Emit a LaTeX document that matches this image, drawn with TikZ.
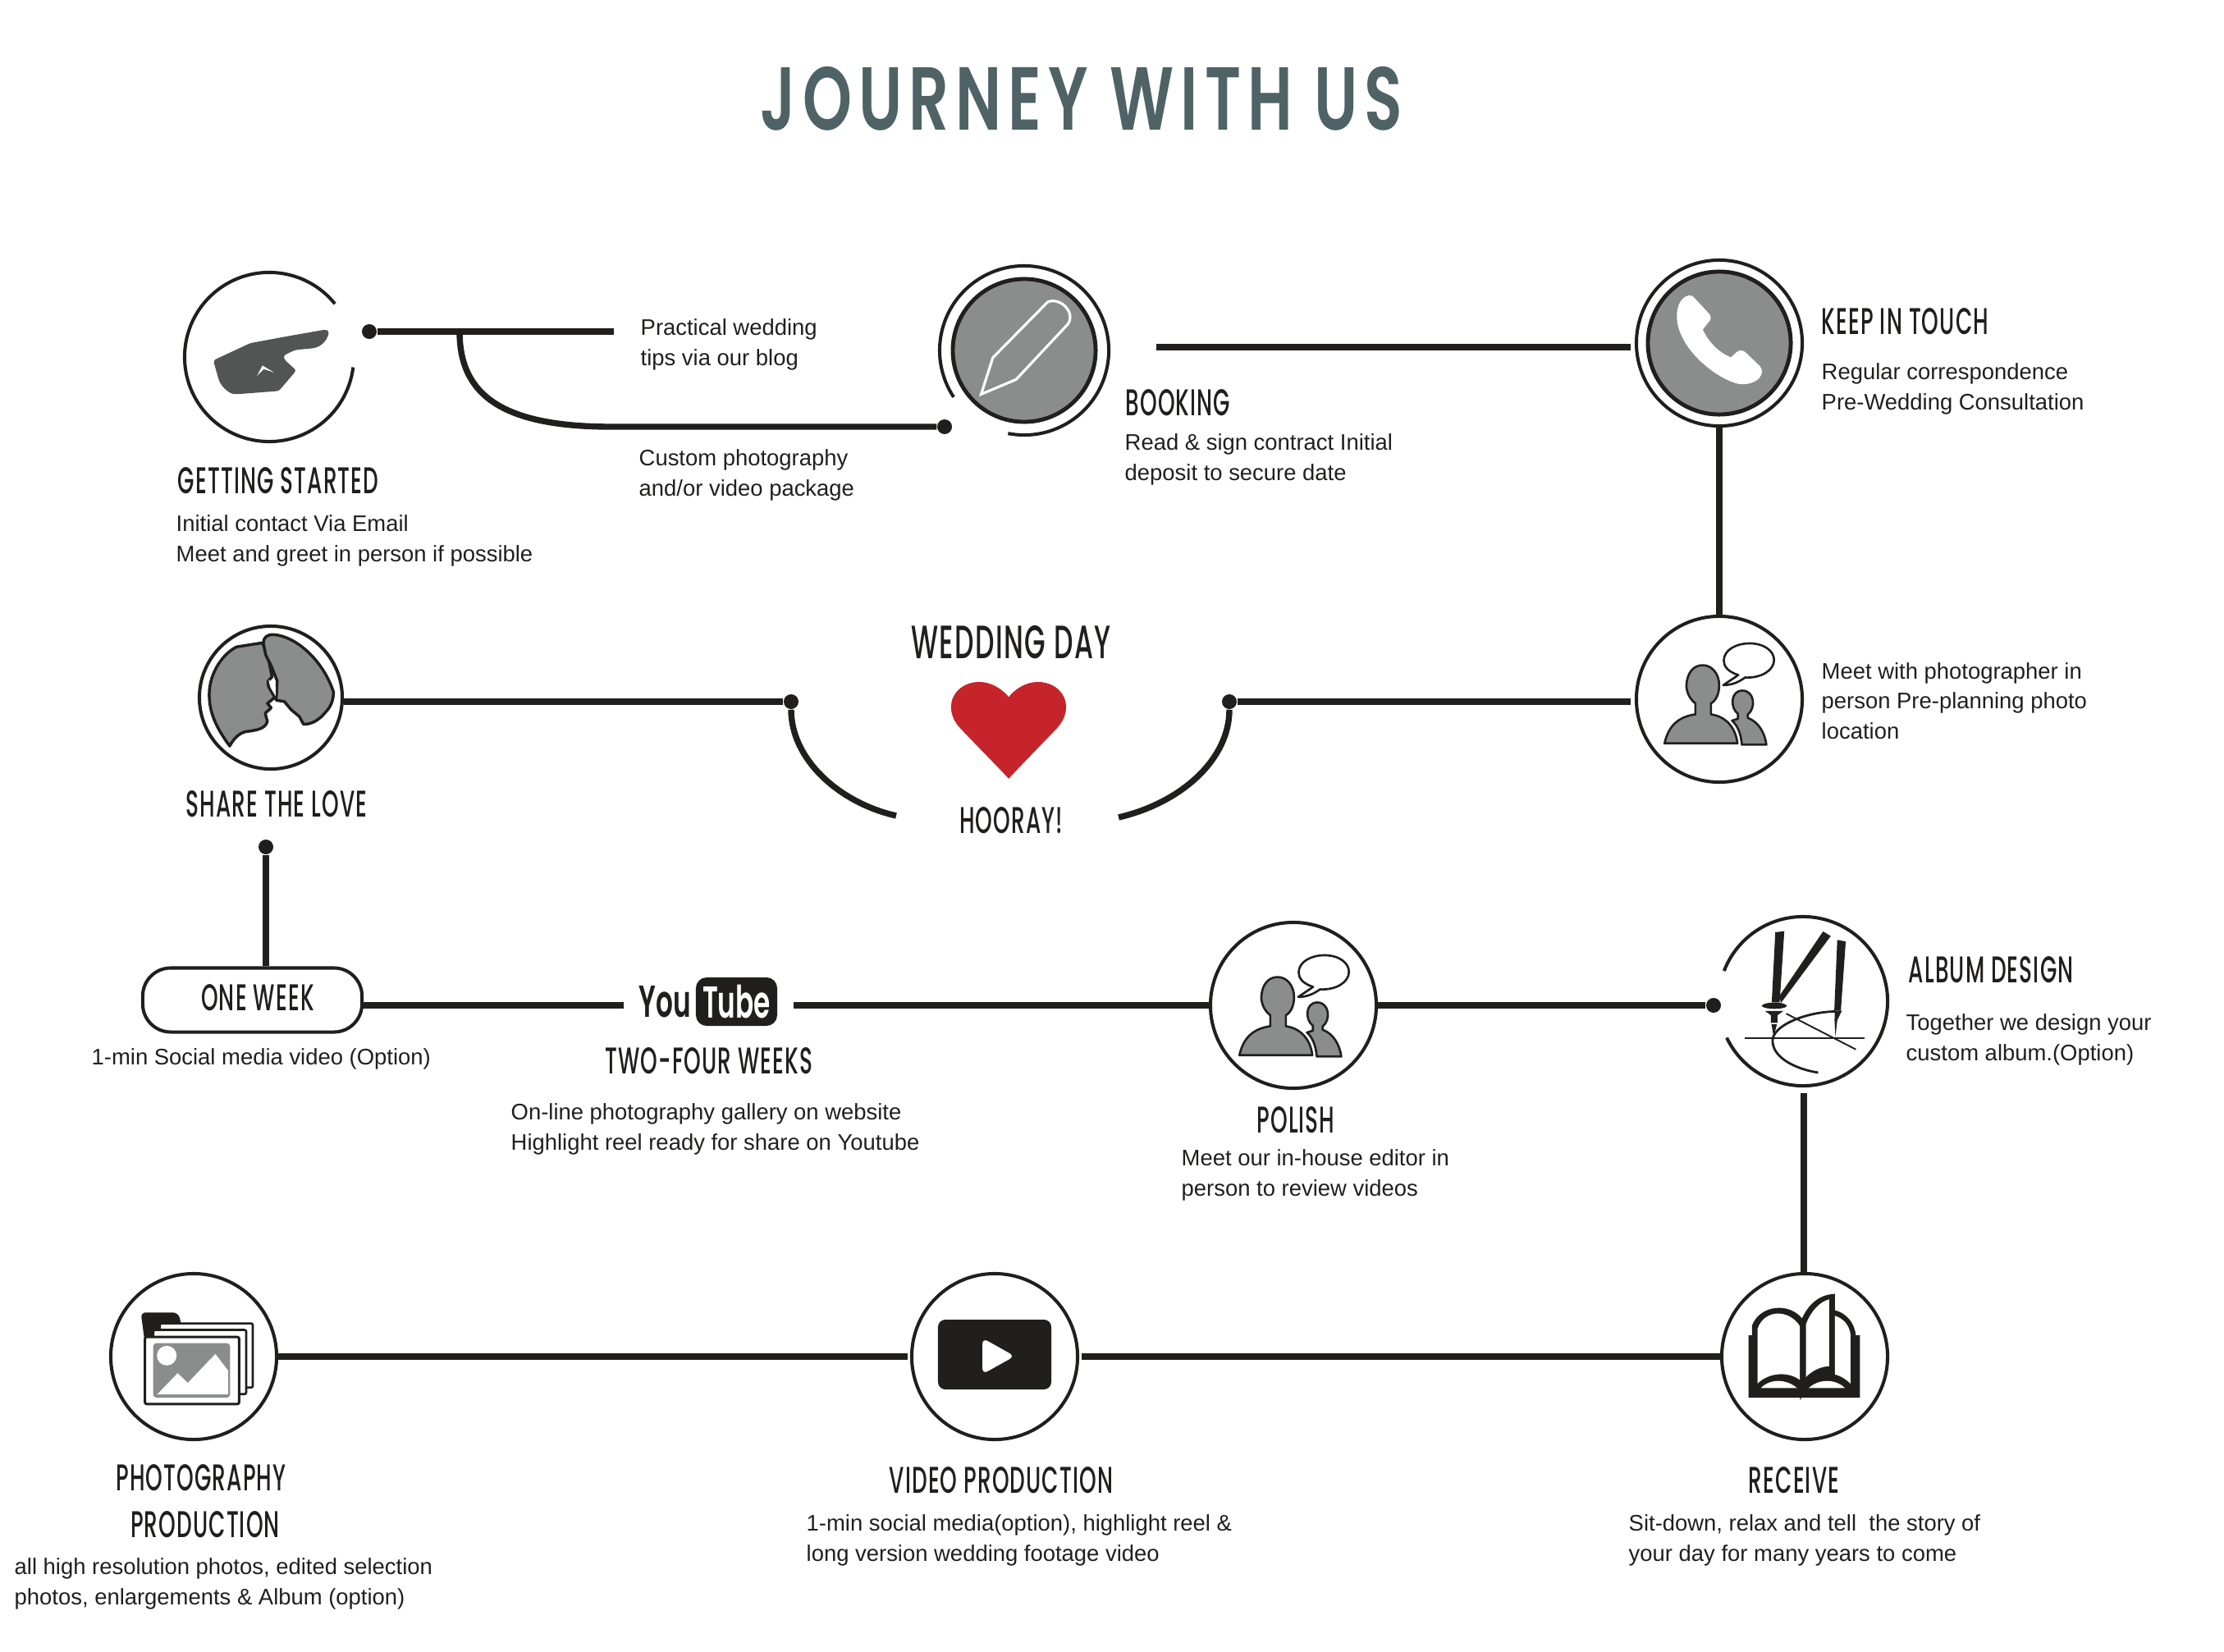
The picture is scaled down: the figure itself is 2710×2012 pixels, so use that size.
\documentclass[tikz,border=0pt]{standalone}
\usepackage{fontspec}
\setmainfont{Liberation Sans}
\newfontfamily\headfont[FakeStretch=0.58,LetterSpace=2.5]{Poppins Medium}
\newfontfamily\logofont[FakeStretch=0.6]{Poppins SemiBold}
\newfontfamily\titlefont[FakeStretch=0.70,LetterSpace=7.5]{Poppins SemiBold}
\definecolor{inkcolor}{RGB}{32,31,30}
\definecolor{iconcolor}{RGB}{139,141,140}
\definecolor{handcolor}{RGB}{83,85,84}
\definecolor{titlecolor}{RGB}{79,98,102}
\definecolor{heartcolor}{RGB}{196,36,42}
\tikzset{
  line/.style={inkcolor, line width=2.1pt},
  ring/.style={inkcolor, line width=1.15pt},
  iconring/.style={circle, draw=inkcolor, line width=1.15pt, fill=white, minimum size=2.02cm, inner sep=0pt},
  greydisc/.style={circle, draw=inkcolor, line width=1.4pt, fill=iconcolor, minimum size=1.74cm, inner sep=0pt},
  dotnode/.style={circle, fill=inkcolor, minimum size=0.18cm, inner sep=0pt},
  head/.style={text=inkcolor, font=\headfont\fontsize{12.9}{16}\selectfont, inner sep=0pt},
  body/.style={text=inkcolor, anchor=west, align=left, yshift=-0.03cm, font=\fontsize{7.8}{10.35}\selectfont, inner sep=0pt},
  zoomed/.style={x=0.003333cm, y=-0.003333cm},
  greyfill/.style={fill=iconcolor, draw=inkcolor, line width=0.75pt, line join=round}
}
% two figures with a speech bubble
\newcommand{\peopleicon}{
  \draw[greyfill] (145,498) .. controls (160,430) and (200,400) .. (258,392) -- (258,352)
    .. controls (230,330) and (225,300) .. (225,285) .. controls (228,240) and (250,212) .. (285,212)
    .. controls (320,212) and (345,245) .. (345,285) .. controls (345,315) and (335,340) .. (315,352)
    -- (315,392) .. controls (370,400) and (405,440) .. (412,498) -- cycle;
  \draw[greyfill] (428,503) .. controls (425,460) and (410,430) .. (392,415) -- (414,408) -- (414,390)
    .. controls (385,370) and (385,305) .. (430,305) .. controls (475,305) and (480,370) .. (450,392)
    -- (450,405) .. controls (490,420) and (512,460) .. (518,503) -- cycle;
  \draw[fill=white, draw=inkcolor, line width=0.75pt, line join=round] (360,285) -- (415,248)
    .. controls (375,235) and (362,215) .. (362,195) .. controls (362,155) and (410,132) .. (455,132)
    .. controls (510,132) and (546,160) .. (546,193) .. controls (546,230) and (500,260) .. (440,257)
    .. controls (415,275) and (390,285) .. (360,285) -- cycle;
}
\begin{document}
\begin{tikzpicture}[x=0.01cm, y=-0.01cm]
\useasboundingbox (0,0) rectangle (2710,2012);

% title
\node[text=titlecolor, font=\titlefont\fontsize{31}{36}\selectfont, inner sep=0pt] (title) at (1318,120) {JOURNEY WITH US};

% getting started
\coordinate (getting) at (328,435);
\draw[ring] ([shift={(39:1.03cm)}]getting) arc[start angle=39, end angle=353, radius=1.03cm];
\begin{scope}[shift={(200,300)}, zoomed]
\fill[handcolor, rounded corners=0.85pt] (180,418) -- (315,355) -- (450,330) -- (592,305) -- (604,312) .. controls (595,350) and (570,372) .. (530,375) -- (480,380) -- (437,400) -- (440,415) -- (484,455) -- (420,530) -- (265,542) .. controls (240,540) and (215,520) .. (200,490) -- cycle;
\fill[white] (340,475) -- (360,437) -- (402,462) -- (365,450) -- cycle;
\end{scope}
\node[dotnode] (gettingdot) at (450,404) {};
\coordinate (blogend) at (748,404);
\coordinate (branch) at (560,404);
\node[dotnode] (bookingdot) at (1151,520) {};
\draw[line] (gettingdot) -- (blogend);
\draw[line] (branch) .. controls (560,480) and (610,520) .. (745,520) -- (bookingdot);
\node[head, anchor=west] (gettinghead) at (216,586) {GETTING STARTED};
\node[body] (gettingtext) at (214,656) {Initial contact Via Email\\Meet and greet in person if possible};
\node[body] (blogtext) at (780,417) {Practical wedding\\tips via our blog};
\node[body] (customtext) at (778,576) {Custom photography\\and/or video package};

% booking
\coordinate (booking) at (1248,427);
\draw[ring] ([shift={(-101:1.03cm)}]booking) arc[start angle=-101, end angle=213.5, radius=1.03cm];
\node[greydisc] (bookingicon) at (booking) {};
\begin{scope}[shift={(1100,300)}, zoomed]
\draw[white, line width=0.9pt, line join=miter] (287,542) -- (330,408) -- (530,205) .. controls (550,192) and (600,205) .. (612,250) .. controls (614,265) and (612,275) .. (605,285) -- (415,488) -- cycle;
\end{scope}
\coordinate (bookingout) at (1409,423);
\node[head, anchor=west] (bookinghead) at (1371,491) {BOOKING};
\node[body] (bookingtext) at (1370,557) {Read \& sign contract Initial\\deposit to secure date};

% keep in touch
\node[iconring] (phone) at (2095,418) {};
\node[greydisc] (phoneicon) at (phone) {};
\begin{scope}[shift={(1980,305)}, zoomed]
\fill[white] (190,240) .. controls (190,205) and (205,170) .. (235,165) .. controls (245,163) and (250,170) .. (255,175)
  -- (308,232) .. controls (318,245) and (315,255) .. (305,265) -- (285,290) .. controls (305,335) and (345,375) .. (388,392)
  -- (410,372) .. controls (420,365) and (430,365) .. (440,372) -- (495,425) .. controls (505,440) and (505,450) .. (490,470)
  .. controls (470,488) and (440,492) .. (420,490) .. controls (340,475) and (190,360) .. (190,240) -- cycle;
\end{scope}
\draw[line, shorten >=0.05cm] (bookingout) -- (bookingout -| phone.west);
\node[head, anchor=west] (phonehead) at (2219,392) {KEEP IN TOUCH};
\node[body] (phonetext) at (2219,471) {Regular correspondence\\Pre-Wedding Consultation};

% meet with photographer
\node[iconring] (meet) at (2095,852) {};
\draw[line] (phone) -- (meet);
\begin{scope}[shift={(1980,740)}, zoomed]
\peopleicon
\end{scope}
\node[body] (meettext) at (2219,851) {Meet with photographer in\\person Pre-planning photo\\location};

% wedding day
\node[head, font=\headfont\fontsize{16.2}{18}\selectfont] (weddinghead) at (1232,783) {WEDDING DAY};
\node[head] (hooray) at (1232,1000) {HOORAY!};
\begin{scope}[shift={(1100,800)}, zoomed]
\fill[heartcolor] (388,447) .. controls (320,375) and (260,315) .. (210,262) .. controls (190,240) and (177,215) .. (177,185)
  .. controls (177,130) and (225,93) .. (280,93) .. controls (325,93) and (365,120) .. (388,148)
  .. controls (410,120) and (450,93) .. (495,93) .. controls (550,93) and (598,130) .. (598,185)
  .. controls (598,215) and (585,240) .. (565,262) .. controls (515,315) and (455,375) .. (388,447) -- cycle;
\end{scope}
\node[dotnode] (rightdot) at (1498,855) {};
\node[dotnode] (leftdot) at (964,855) {};
\coordinate (rightend) at (1363,996);
\coordinate (leftend) at (1092,994);
\draw[line, shorten >=0.05cm] (rightdot) -- (rightdot -| meet.west);
\draw[line] (rightdot) .. controls (1498,925) and (1440,978) .. (rightend);
\draw[line] (leftdot) .. controls (964,925) and (1022,978) .. (leftend);

% share the love
\node[iconring, minimum size=1.74cm] (share) at (330,850) {};
\draw[line] (leftdot) -- (leftdot -| share.east);
\begin{scope}[shift={(220,740)}, zoomed]
\draw[greyfill, line width=1pt] (180,508) .. controls (130,440) and (105,385) .. (105,320) .. controls (105,240) and (155,170) .. (205,145)
  -- (300,130) -- (320,180) -- (335,255) -- (320,270) -- (322,290) -- (345,330) -- (318,352) -- (332,368) -- (310,388) -- (318,418) .. controls (310,445) and (280,450) .. (240,455) .. controls (215,460) and (195,480) .. (180,508) -- cycle;
\draw[greyfill, line width=1pt] (303,130) .. controls (305,110) and (315,100) .. (340,100) .. controls (420,105) and (520,190) .. (560,310) .. controls (560,340) and (550,365) .. (530,385)
  .. controls (510,410) and (480,430) .. (450,428) -- (435,400) -- (405,375) -- (380,345) -- (350,340) -- (354,270) -- (330,210) -- (312,175) -- cycle;
\fill[white] (322,265) -- (348,290) -- (348,325) -- (330,295) -- cycle;
\end{scope}
\node[head] (sharehead) at (337,980) {SHARE THE LOVE};
\node[dotnode] (sharedot) at (324,1032) {};

% one week
\node[draw=inkcolor, line width=1.15pt, fill=white, rounded corners=0.34cm, minimum width=2.67cm, minimum height=0.78cm, inner sep=0pt] (oneweek) at (307.5,1218.5) {};
\node[head] (oneweekhead) at (314,1216) {ONE WEEK};
\draw[line] (sharedot) -- (sharedot |- oneweek.north);
\node[body] (oneweektext) at (111,1287) {1-min Social media video (Option)};

% two-four weeks
\node[text=inkcolor, inner sep=0pt, anchor=west, font=\logofont\fontsize{15.5}{20}\selectfont] (youlabel) at (778,1221) {You};
\node[fill=inkcolor, text=white, rounded corners=0.13cm, minimum width=0.99cm, minimum height=0.59cm, inner sep=0pt, font=\logofont\fontsize{15.5}{20}\selectfont] (tubelabel) at (897.5,1220.5) {Tube};
\coordinate (oneweekout) at (442,1225);
\coordinate (youin) at (760,1225);
\coordinate (tubeout) at (967,1225);
\draw[line] (oneweekout) -- (youin);
\node[head] (twofourhead) at (864,1293) {TWO-FOUR WEEKS};
\node[body] (twofourtext) at (622,1373) {On-line photography gallery on website\\Highlight reel ready for share on Youtube};

% polish
\node[iconring] (polish) at (1576,1225) {};
\draw[line] (tubeout) -- (tubeout -| polish.west);
\begin{scope}[shift={(1462,1120)}, zoomed]
\peopleicon
\end{scope}
\node[head] (polishhead) at (1579,1365) {POLISH};
\node[body] (polishtext) at (1439,1429) {Meet our in-house editor in\\person to review videos};

% album design
\coordinate (album) at (2197,1220);
\draw[ring] ([shift={(205.6:1.03cm)}]album) arc[start angle=205.6, end angle=519, radius=1.03cm];
\node[dotnode] (albumdot) at (2088,1225) {};
\draw[line] (polish) -- (albumdot);
\begin{scope}[shift={(2080,1100)}, zoomed]
\fill[inkcolor] (250,108) -- (283,104) -- (266,365) -- (237,365) -- cycle;
\fill[inkcolor] (425,105) -- (453,122) -- (270,368) -- (266,340) -- cycle;
\fill[inkcolor] (477,136) -- (508,142) -- (490,395) -- (466,395) -- cycle;
\fill[inkcolor] (200,378) .. controls (205,362) and (285,360) .. (293,378) .. controls (285,392) and (210,392) .. (200,378) -- cycle;
\fill[inkcolor] (212,396) -- (280,396) -- (258,412) -- (258,440) -- (234,440) -- (234,412) -- cycle;
\fill[inkcolor] (236,445) -- (256,445) -- (244,490) -- cycle;
\fill[inkcolor] (468,395) -- (494,395) -- (477,430) -- (470,492) -- (467,430) -- cycle;
\draw[inkcolor, line width=0.55pt] (138,495) -- (578,495);
\draw[inkcolor, line width=0.55pt] (290,406) -- (545,537);
\draw[inkcolor, line width=0.8pt] (470,398) .. controls (360,400) and (240,450) .. (240,505) .. controls (240,570) and (330,610) .. (407,622);
\end{scope}
\node[head, anchor=west] (albumhead) at (2325,1182) {ALBUM DESIGN};
\node[body] (albumtext) at (2322,1264) {Together we design your\\custom album.(Option)};

% receive
\node[iconring] (receive) at (2199,1653) {};
\coordinate (albumend) at (2198,1332);
\draw[line] (albumend) -- (albumend |- receive.north);
\begin{scope}[shift={(2080,1540)}, zoomed]
\fill[inkcolor] (152,262) -- (165,262) -- (165,225) .. controls (195,150) and (300,140) .. (348,200) .. controls (370,150) and (410,112) .. (468,110) -- (468,170) .. controls (510,180) and (540,215) .. (545,262) -- (560,262) -- (560,490) -- (345,490) -- (342,500) -- (340,490) -- (152,490) -- cycle;
\fill[white] (185,238) .. controls (210,165) and (300,165) .. (340,228) -- (340,425) .. controls (300,395) and (230,395) .. (185,438) -- cycle;
\fill[white] (362,222) .. controls (380,175) and (410,140) .. (447,130) -- (447,375) .. controls (420,375) and (385,390) .. (362,415) -- cycle;
\fill[white] (468,190) .. controls (500,200) and (520,225) .. (525,255) -- (525,438) .. controls (505,420) and (490,410) .. (468,405) -- (468,380) -- cycle;
\fill[white] (197,455) .. controls (230,420) and (290,420) .. (330,455) -- cycle;
\fill[white] (372,455) .. controls (410,420) and (470,420) .. (505,455) -- cycle;
\end{scope}
\node[head] (receivehead) at (2186,1804) {RECEIVE};
\node[body] (receivetext) at (1984,1874) {Sit-down, relax and tell\ \ the story of\\your day for many years to come};

% video production
\node[iconring] (video) at (1212,1653) {};
\node[fill=inkcolor, rounded corners=0.09cm, minimum width=1.38cm, minimum height=0.85cm, inner sep=0pt] (player) at (1212,1650.5) {};
\begin{scope}[shift={(1090,1540)}, zoomed]
\fill[white, rounded corners=2pt] (322,272) -- (440,338) -- (322,404) -- cycle;
\end{scope}
\coordinate (videoout) at (1318,1653);
\coordinate (videoin) at (1106,1653);
\draw[line] (videoout) -- (receive);

\node[head] (videohead) at (1220,1804) {VIDEO PRODUCTION};
\node[body] (videotext) at (982,1874) {1-min social media(option), highlight reel \&\\long version wedding footage video};

% photography production
\node[iconring] (photo) at (236,1653) {};
\draw[line] (photo) -- (videoin);
\begin{scope}[shift={(120,1540)}, zoomed]
\fill[inkcolor, rounded corners=1.7pt] (155,178) -- (290,178) -- (302,210) -- (302,260) -- (170,290) -- cycle;
\foreach\dx/\dy in {50/-50, 26/-26}
\draw[fill=white, draw=inkcolor, line width=0.75pt, rounded corners=0.6pt] ({175+\dx},{268+\dy}) rectangle ({515+\dx},{503+\dy});
\draw[fill=white, draw=inkcolor, line width=0.85pt, rounded corners=0.6pt] (170,268) rectangle (515,513);
\fill[iconcolor, rounded corners=1.2pt] (200,290) rectangle (482,490);
\fill[white] (215,478) -- (290,400) -- (327,436) -- (428,330) -- (474,390) -- (474,478) -- cycle;
\fill[white] (250,336) circle[radius=36];
\end{scope}
\node[head] (photohead) at (245,1801) {PHOTOGRAPHY};
\node[head] (prodhead) at (250,1858) {PRODUCTION};
\node[body] (phototext) at (17,1927) {all high resolution photos, edited selection\\photos, enlargements \& Album (option)};
\end{tikzpicture}
\end{document}
